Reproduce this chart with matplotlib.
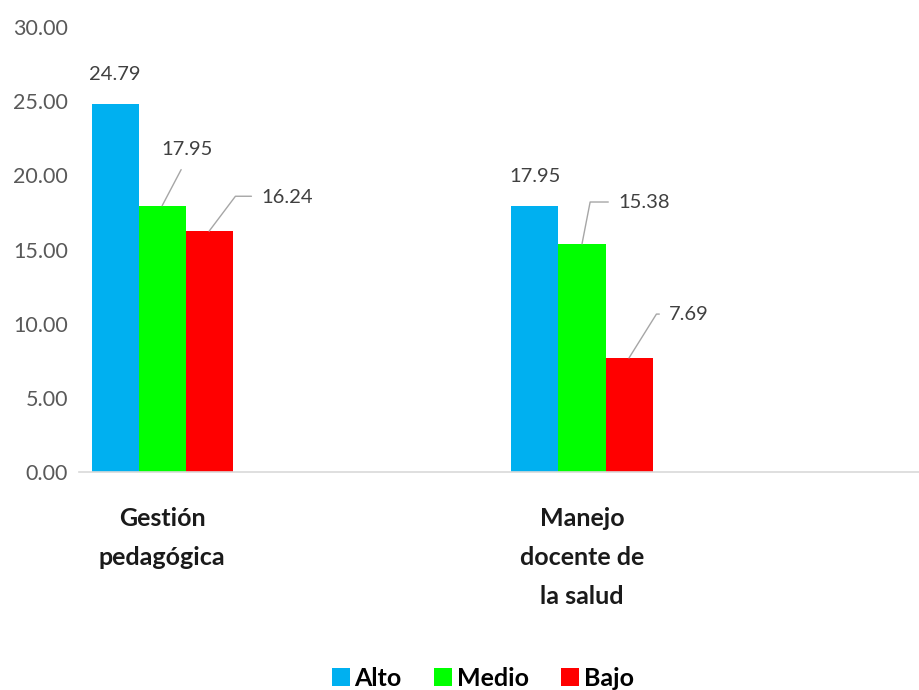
import numpy as np
import matplotlib.pyplot as plt

# datos
categorias = ['Gestión\npedagógica', 'Manejo\ndocente de\nla salud']
niveles = ['Alto', 'Medio', 'Bajo']
alto = [24.79, 17.95]
medio = [17.95, 15.38]
bajo = [16.24, 7.69]
colores = ['#00b0f0', '#00ff00', '#ff0000']

# desplazamiento de cada etiqueta (px) y angulo de la linea guia (None = sin guia)
etiq_offset = [
    [(0, 30), (0, 29)],
    [(25, 56), (36, 41)],
    [(52, 34), (40, 43)],
]
guia_angulo = [
    [None, None],
    ['recta', 79],
    [53, 58],
]

plt.rcParams['font.family'] = ['Lato', 'DejaVu Sans']

fig = plt.figure(figsize=(9.2, 6.9), dpi=100)
ax = fig.add_axes([79 / 920, 218 / 690, 1 - 79 / 920, 445 / 690])

x = np.arange(len(categorias))
ancho = 0.112
series = [alto, medio, bajo]

for i, (serie, nombre, color) in enumerate(zip(series, niveles, colores)):
    pos = x + (i - 1) * ancho
    ax.bar(pos, serie, width=ancho, color=color, label=nombre, zorder=2)
    for j, (px, val) in enumerate(zip(pos, serie)):
        dx, dy = etiq_offset[i][j]
        ang = guia_angulo[i][j]
        texto = f'{val:.2f}'
        if ang is None:
            ax.annotate(texto, xy=(px, val), xytext=(dx, dy),
                        textcoords='offset pixels', ha='center', va='center',
                        fontsize=14.5, color='#404040')
        elif ang == 'recta':
            ax.annotate(texto, xy=(px, val), xytext=(dx, dy),
                        textcoords='offset pixels', ha='center', va='center',
                        fontsize=14.5, color='#404040',
                        arrowprops=dict(arrowstyle='-', color='#a6a6a6', lw=1,
                                        relpos=(0.5, 0), shrinkA=7, shrinkB=0))
        else:
            ax.annotate(texto, xy=(px, val), xytext=(dx, dy),
                        textcoords='offset pixels', ha='left', va='center',
                        fontsize=14.5, color='#404040',
                        arrowprops=dict(arrowstyle='-', color='#a6a6a6', lw=1,
                                        relpos=(0, 0.55), shrinkA=5, shrinkB=0,
                                        connectionstyle=f'angle,angleA=0,angleB={ang},rad=0'))

ax.set_ylim(0, 30)
ax.set_xlim(-0.198, 1.805)
ax.set_yticks(np.arange(0, 31, 5))
ax.set_yticklabels([f'{v:.2f}' for v in np.arange(0, 31, 5)])
ax.tick_params(axis='y', length=0, pad=8, labelsize=15.5, labelcolor='#595959')

ax.set_xticks(x)
ax.set_xticklabels(categorias, fontsize=18, fontweight='bold', linespacing=1.85,
                   color='#1a1a1a')
ax.tick_params(axis='x', length=0, pad=25)

for lado in ['top', 'right', 'left']:
    ax.spines[lado].set_visible(False)
ax.spines['bottom'].set_color('#d9d9d9')
ax.spines['bottom'].set_linewidth(1.2)

fig.legend(loc='center', bbox_to_anchor=(483 / 920, 1 - 678 / 690), ncol=3,
           frameon=False, prop={'size': 18, 'weight': 'bold'},
           handlelength=0.7, handleheight=0.7, handletextpad=0.2,
           columnspacing=1.3)

fig.savefig('out.png', dpi=100)
